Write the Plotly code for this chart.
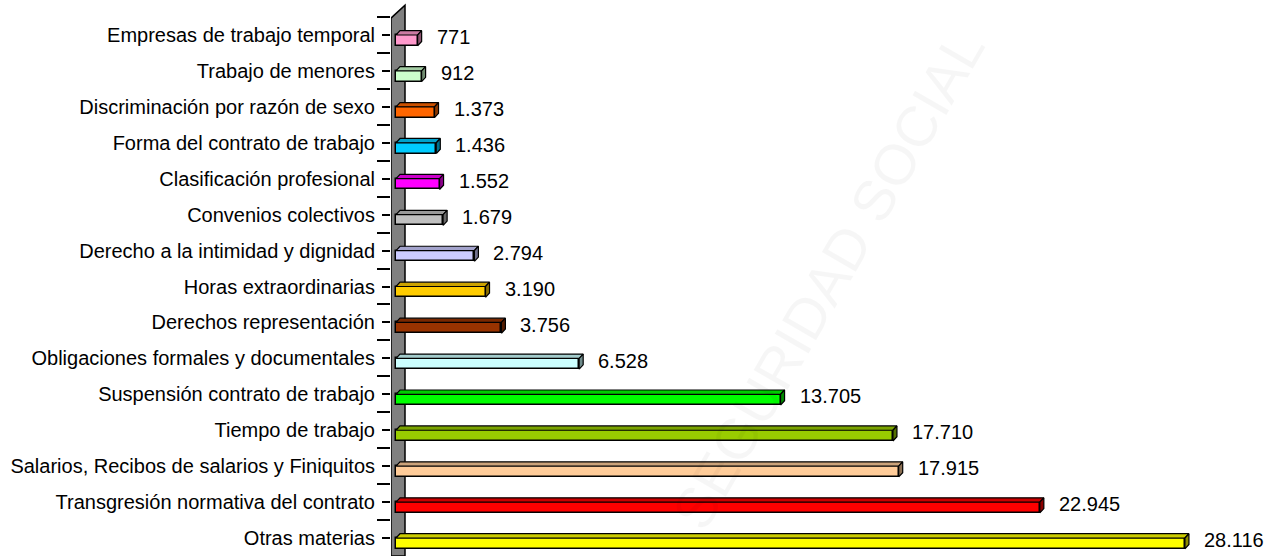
import plotly.graph_objects as go

# ---- data (bottom to top) ----
categories = [
    "Otras materias",
    "Transgresión normativa del contrato",
    "Salarios, Recibos de salarios y Finiquitos",
    "Tiempo de trabajo",
    "Suspensión contrato de trabajo",
    "Obligaciones formales y documentales",
    "Derechos representación",
    "Horas extraordinarias",
    "Derecho a la intimidad y dignidad",
    "Convenios colectivos",
    "Clasificación profesional",
    "Forma del contrato de trabajo",
    "Discriminación por razón de sexo",
    "Trabajo de menores",
    "Empresas de trabajo temporal",
]
values = [28116, 22945, 17915, 17710, 13705, 6528, 3756, 3190, 2794, 1679, 1552, 1436, 1373, 912, 771]
colors = ["#FFFF00", "#FF0000", "#FFCC99", "#99CC00", "#00FF00", "#CCFFFF", "#993300",
          "#FFCC00", "#CCCCFF", "#C0C0C0", "#FF00FF", "#00CCFF", "#FF6600", "#CCFFCC", "#FF99CC"]
value_labels = [f"{v:,}".replace(",", ".") for v in values]
watermark = "SEGURIDAD SOCIAL"

FONT = "Liberation Sans, Arial, sans-serif"

# geometry (style)
W, H = 1273, 556
ML, MR, MT, MB = 391, 0, 3, 0
XMIN = -178
PX_PER_UNIT = 0.02806
XMAX = XMIN + (W - ML - MR) / PX_PER_UNIT
YMIN, YMAX = -0.5, 14.89
FRONT_H = 0.30          # front face height (category units)
DX = 143                # depth offset x (value units)
DY = 0.12               # depth offset y (category units)


def shade(hexc, f):
    hexc = hexc.lstrip("#")
    r, g, b = (int(hexc[i:i + 2], 16) for i in (0, 2, 4))
    return f"rgb({int(r * f)},{int(g * f)},{int(b * f)})"


pos = list(range(len(categories)))
fig = go.Figure()

# front faces
fig.add_trace(go.Bar(
    x=values, y=[p - FRONT_H / 2 for p in pos], base=0, orientation="h",
    width=FRONT_H, marker=dict(color=colors, line=dict(color="black", width=1.5)),
    hoverinfo="skip", showlegend=False,
))

# top and side faces
for p, v, c in zip(pos, values, colors):
    top_y = p
    bot_y = p - FRONT_H
    fig.add_trace(go.Scatter(
        x=[0, v, v + DX, DX, 0], y=[top_y, top_y, top_y + DY, top_y + DY, top_y],
        fill="toself", fillcolor=shade(c, 0.8), mode="lines",
        line=dict(color="black", width=1.2), hoverinfo="skip", showlegend=False,
    ))
    fig.add_trace(go.Scatter(
        x=[v, v + DX, v + DX, v, v], y=[bot_y, bot_y + DY, top_y + DY, top_y, bot_y],
        fill="toself", fillcolor=shade(c, 0.55), mode="lines",
        line=dict(color="black", width=1.2), hoverinfo="skip", showlegend=False,
    ))

# wall (back/left plane)
wall_right = 321
fig.add_shape(type="path",
              path=f"M {XMIN},{YMIN} L {XMIN},14.47 L {wall_right},14.83 L {wall_right},{YMIN} Z",
              xref="x", yref="y", fillcolor="#808080",
              line=dict(color="black", width=1.5), layer="below")

# data labels
for p, v, t in zip(pos, values, value_labels):
    fig.add_annotation(x=v, y=p - 0.06, text=t, showarrow=False, xanchor="left",
                       yanchor="middle", xshift=17,
                       font=dict(family=FONT, size=20, color="black"))

# watermark
fig.add_annotation(x=0.495, y=0.5, xref="paper", yref="paper", text=watermark,
                   showarrow=False, textangle=-60,
                   font=dict(family=FONT, size=57, color="rgba(0,0,0,0.035)"))

fig.update_layout(
    width=W, height=H,
    margin=dict(l=ML, r=MR, t=MT, b=MB, pad=0, autoexpand=False),
    plot_bgcolor="white", paper_bgcolor="white",
    bargap=0,
    xaxis=dict(range=[XMIN, XMAX], visible=False, fixedrange=True),
    yaxis=dict(range=[YMIN, YMAX], tickmode="array", tickvals=pos, ticktext=categories,
               ticks="outside", ticklen=8, tickwidth=2, tickcolor="black",
               ticklabelstandoff=3, automargin=False,
               showgrid=False, zeroline=False, showline=False,
               tickfont=dict(family=FONT, size=20, color="black"),
               minor=dict(tickvals=[p + 0.5 for p in pos], ticks="outside", ticklen=13,
                          tickwidth=2, tickcolor="black", showgrid=False),
               fixedrange=True),
    showlegend=False,
)

fig.write_html("out.html", config={"displayModeBar": False},
               post_script="document.body.style.margin='0';")
